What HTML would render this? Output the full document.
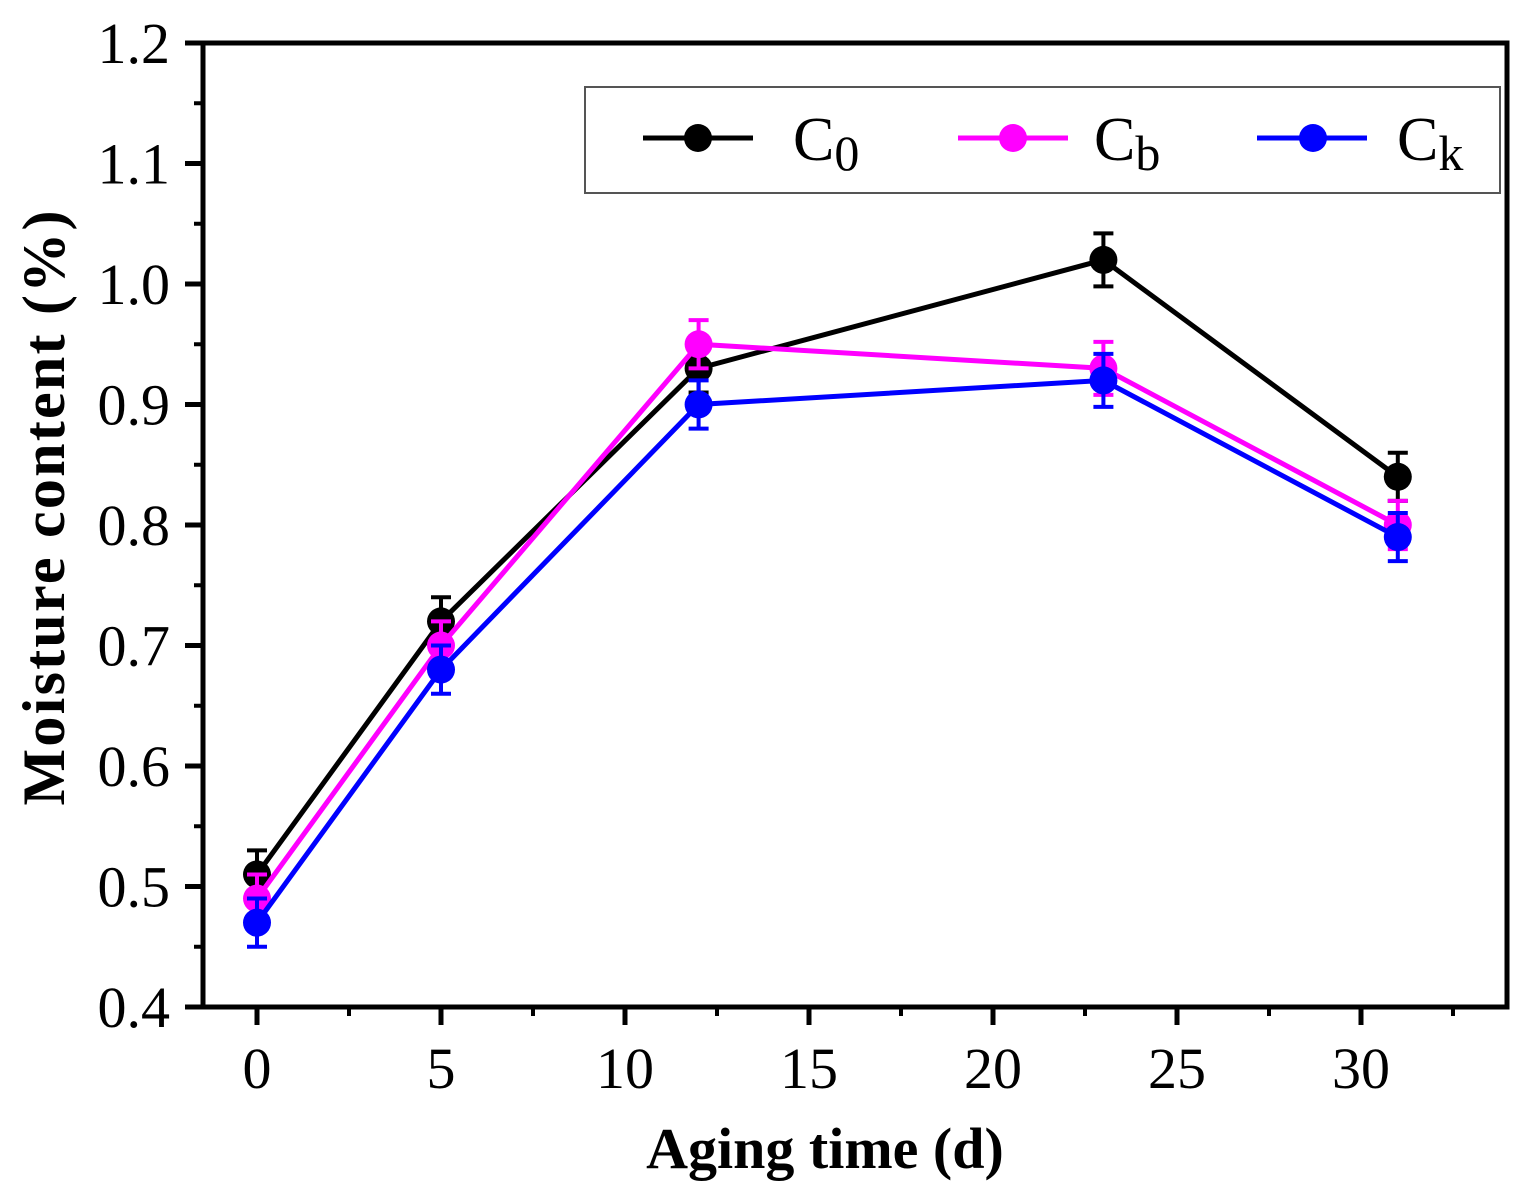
<!DOCTYPE html>
<html><head><meta charset="utf-8"><style>
body{margin:0;background:#fff}
svg{display:block;font-family:"Liberation Serif",serif}
</style></head><body>
<svg id="chart" width="1528" height="1201" viewBox="0 0 1528 1201">
<rect x="203" y="43" width="1304" height="964" fill="none" stroke="#000" stroke-width="5"/>
<g id="axes"></g><g id="series"></g>
<text x="825" y="1168" font-size="58" font-weight="bold" text-anchor="middle">Aging time (d)</text>
<text transform="translate(64,508) rotate(-90)" font-size="60" font-weight="bold" text-anchor="middle" textLength="595">Moisture content (%)</text>
<g>
<rect x="585" y="87" width="915" height="106" fill="#fff" stroke="#555" stroke-width="2"/>
<g><line x1="643" y1="138" x2="753" y2="138" stroke="#000" stroke-width="5"/><circle cx="698" cy="138" r="14" fill="#000"/><text x="793" y="160" font-size="62">C<tspan font-size="50" dy="10">0</tspan></text></g>
<g><line x1="958" y1="138" x2="1068" y2="138" stroke="#ff00ff" stroke-width="5"/><circle cx="1013" cy="138" r="14" fill="#ff00ff"/><text x="1094" y="160" font-size="62">C<tspan font-size="50" dy="10">b</tspan></text></g>
<g><line x1="1257" y1="138" x2="1367" y2="138" stroke="#0000ff" stroke-width="5"/><circle cx="1313" cy="138" r="14" fill="#0000ff"/><text x="1397" y="160" font-size="62">C<tspan font-size="50" dy="10">k</tspan></text></g>
</g>
</svg>
<script>
const days=[0,5,12,23,31];
const c0=[0.51,0.72,0.93,1.02,0.84];
const cb=[0.49,0.70,0.95,0.93,0.80];
const ck=[0.47,0.68,0.90,0.92,0.79];
const errs=[0.02,0.02,0.02,0.022,0.02];
const xTicks=[0,5,10,15,20,25,30];
const yTicks=[0.4,0.5,0.6,0.7,0.8,0.9,1.0,1.1,1.2];
const NS='http://www.w3.org/2000/svg';
const xs=v=>257+(v)*36.8;
const ys=v=>1007-(v-0.4)*1205;
function mk(t,a,p){const e=document.createElementNS(NS,t);for(const k in a)e.setAttribute(k,a[k]);p.appendChild(e);return e;}
const ax=document.getElementById('axes');
xTicks.forEach(t=>{
 const l=mk('line',{x1:xs(t),x2:xs(t),y1:1007,y2:1025,stroke:'#000','stroke-width':5},ax);
 
 
 const m=mk('line',{x1:xs(t+2.5),x2:xs(t+2.5),y1:1007,y2:1016,stroke:'#000','stroke-width':4},ax);
 
 
 const tx=mk('text',{x:xs(t),y:1088,'font-size':58,'text-anchor':'middle'},ax);tx.textContent=t;
 
 
});
yTicks.forEach((t,i)=>{
 const l=mk('line',{x1:185,x2:203,y1:ys(t),y2:ys(t),stroke:'#000','stroke-width':5},ax);
 
 
 if(i<yTicks.length-1){const m=mk('line',{x1:194,x2:203,y1:ys(t+0.05),y2:ys(t+0.05),stroke:'#000','stroke-width':4},ax);
 
 }
 const tx=mk('text',{x:170,y:ys(t)+20,'font-size':58,'text-anchor':'end'},ax);tx.textContent=t.toFixed(1);
 
 
});
const sg=document.getElementById('series');
[[c0,'#000','c0'],[cb,'#ff00ff','cb'],[ck,'#0000ff','ck']].forEach(([d,c,n])=>{
 const g=mk('g',{},sg);
 
 
 const pl=mk('polyline',{points:days.map((x,i)=>xs(x)+','+ys(d[i])).join(' '),fill:'none',stroke:c,'stroke-width':5},g);
 
 
 days.forEach((x,i)=>{
  const e=errs[i],X=xs(x);
  const eb=mk('path',{d:`M${X},${ys(d[i]-e)}V${ys(d[i]+e)}M${X-10},${ys(d[i]-e)}H${X+10}M${X-10},${ys(d[i]+e)}H${X+10}`,stroke:c,'stroke-width':4,fill:'none'},g);
  
  
  const p=mk('circle',{cx:X,cy:ys(d[i]),r:14,fill:c},g);
  
  
 });
});
</script>
</body></html>
